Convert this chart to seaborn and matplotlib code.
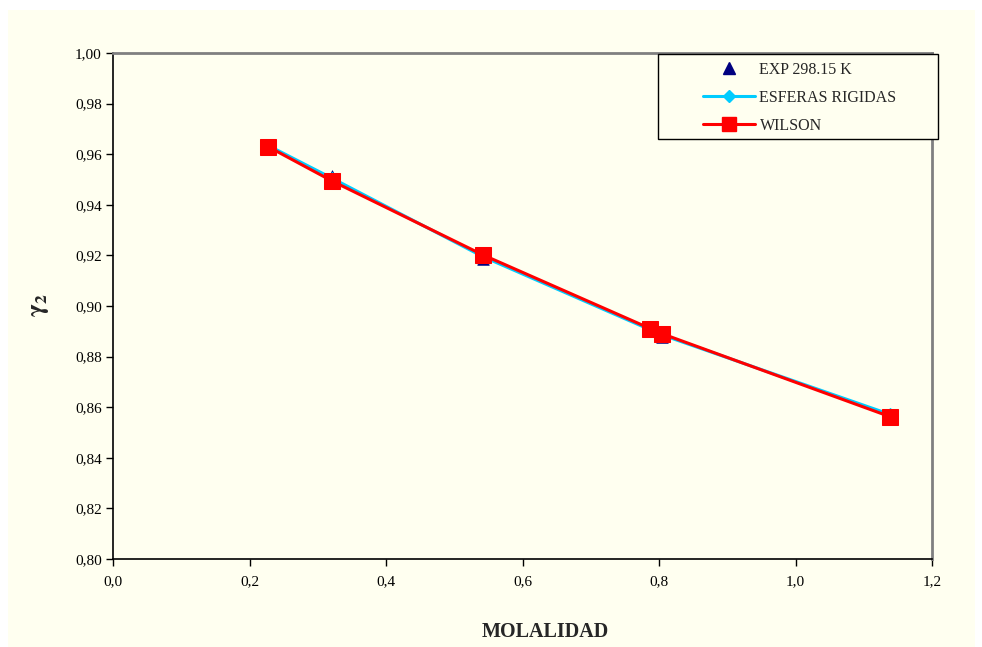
import matplotlib
matplotlib.use("Agg")
import matplotlib.pyplot as plt
from matplotlib.lines import Line2D
from matplotlib.patches import Rectangle
import seaborn as sns
import pandas as pd

# Activity coefficient of the solute vs. molality
molalidad = [0.227, 0.321, 0.542, 0.787, 0.804, 1.138]
exp_29815 = [0.963, 0.9515, 0.9186, 0.8905, 0.8877, 0.8565]
esferas_rigidas = [0.9635, 0.9505, 0.9195, 0.8906, 0.8886, 0.8572]
wilson = [0.963, 0.9494, 0.9202, 0.8911, 0.8891, 0.8563]

x_ticks = [0.0, 0.2, 0.4, 0.6, 0.8, 1.0, 1.2]
y_ticks = [0.80, 0.82, 0.84, 0.86, 0.88, 0.90, 0.92, 0.94, 0.96, 0.98, 1.00]

df = pd.DataFrame({"m": molalidad, "exp": exp_29815,
                   "esf": esferas_rigidas, "wil": wilson})

sns.set_theme(style="white")
plt.rcParams["font.family"] = ["Liberation Serif", "DejaVu Serif"]
plt.rcParams["mathtext.fontset"] = "stix"

W, H = 982, 647
bg = "#FFFFF0"
fig = plt.figure(figsize=(W / 100, H / 100), dpi=100, facecolor="white")
fig.patches.append(Rectangle((8 / W, 0), (975 - 8) / W, 1 - 10 / H,
                             transform=fig.transFigure, facecolor=bg,
                             edgecolor="none", zorder=-10))
ax = fig.add_axes([113 / W, 88 / H, (932 - 113) / W, (559 - 53) / H])
ax.set_facecolor(bg)

navy = "#000080"
cyan = "#00CCFF"
red = "#FF0000"

sns.scatterplot(data=df, x="m", y="exp", marker="^", s=70, color=navy,
                edgecolor=navy, linewidth=0.5, ax=ax, zorder=3, legend=False)
sns.lineplot(data=df, x="m", y="esf", color=cyan, lw=2.2, marker="D",
             markersize=6, markeredgecolor=cyan, sort=False, ax=ax,
             zorder=4, legend=False)
sns.lineplot(data=df, x="m", y="wil", color=red, lw=2.2, marker="s",
             markersize=11, markeredgecolor=red, sort=False, ax=ax,
             zorder=5, legend=False)

ax.set_xlim(0, 1.2)
ax.set_ylim(0.80, 1.00)
ax.set_xticks(x_ticks)
ax.set_yticks(y_ticks)
ax.set_xticklabels([f"{v:.1f}".replace(".", ",") for v in x_ticks])
ax.set_yticklabels([f"{v:.2f}".replace(".", ",") for v in y_ticks])
ax.tick_params(axis="both", direction="out", length=5, width=1,
               colors="black", labelsize=11, left=True, bottom=True)
ax.tick_params(axis="y", pad=3)
ax.tick_params(axis="x", pad=7)
ax.set_xlabel("")
ax.set_ylabel("")

for side in ("left", "bottom"):
    ax.spines[side].set_color("black")
    ax.spines[side].set_linewidth(1.2)
for side in ("top", "right"):
    ax.spines[side].set_color("#808080")
    ax.spines[side].set_linewidth(2)

fig.text(545 / W, 1 - 632 / H, "MOLALIDAD", fontsize=14.5,
         fontweight="bold", ha="center", va="center")
fig.text(40 / W, 1 - 305 / H, r"$\mathbf{\gamma_2}$", fontsize=18,
         rotation=90, ha="center", va="center")

# legend frame and entries
fig.patches.append(Rectangle((658 / W, 1 - 139 / H), (938 - 658) / W,
                             (139 - 54) / H, transform=fig.transFigure,
                             facecolor=bg, edgecolor="black", lw=1,
                             zorder=20))
handles = [
    Line2D([], [], color=navy, marker="^", markersize=8, linestyle="none"),
    Line2D([], [], color=cyan, lw=2.2, marker="D", markersize=6),
    Line2D([], [], color=red, lw=2.2, marker="s", markersize=10),
]
labels = ["EXP 298.15 K", "ESFERAS RIGIDAS", "WILSON"]
leg = fig.legend(handles, labels, loc="upper left",
                 bbox_to_anchor=(698 / W, 1 - 57 / H),
                 fontsize=11.5, frameon=False, handlelength=3.25,
                 handletextpad=0.3, borderpad=0.3,
                 labelspacing=0.75, borderaxespad=0)
leg.set_zorder(21)

fig.savefig("out.png", dpi=100, facecolor="white")
